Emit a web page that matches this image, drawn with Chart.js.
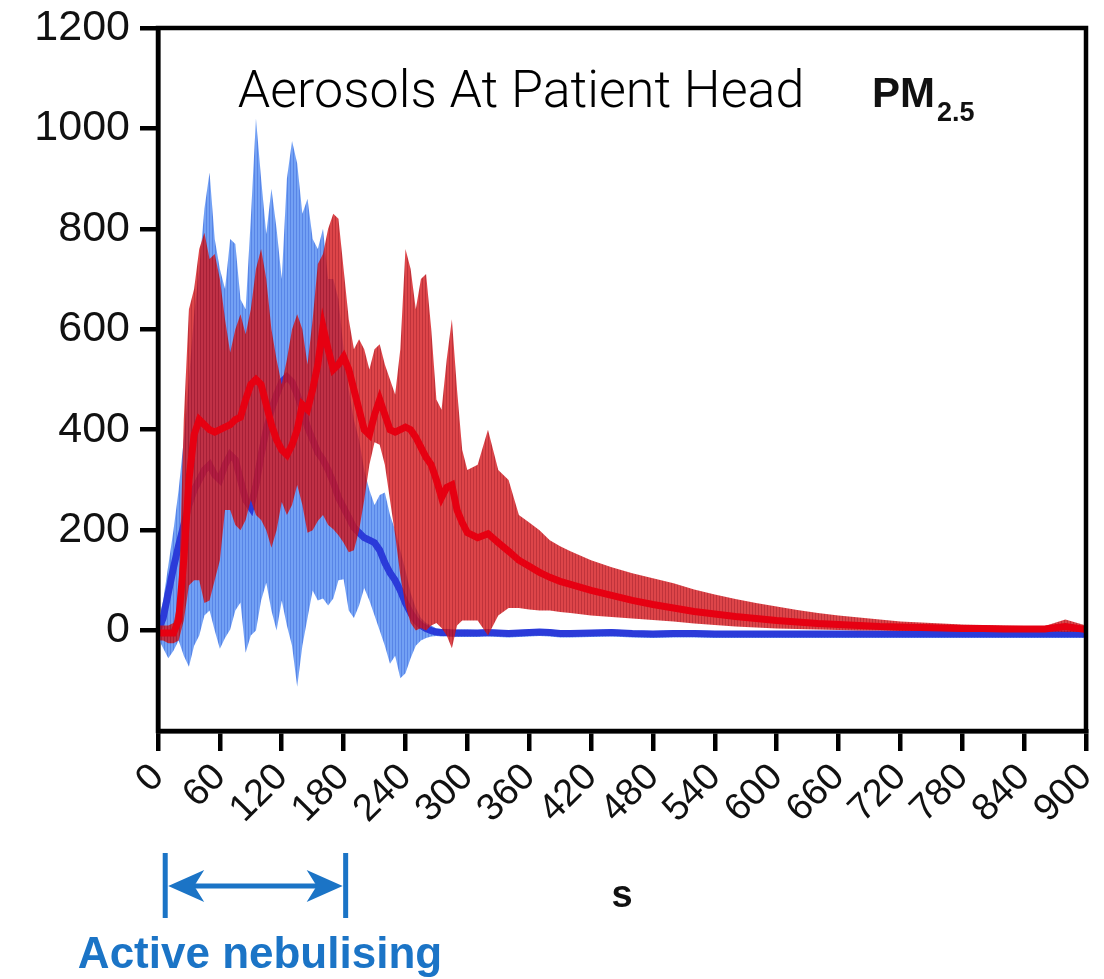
<!DOCTYPE html>
<html>
<head>
<meta charset="utf-8">
<script src="https://cdn.jsdelivr.net/npm/chart.js@4.4.1/dist/chart.umd.min.js"></script>
<style>
  html, body { margin: 0; padding: 0; background: #fff; }
  #wrap { width: 1104px; height: 979px; position: relative; }
</style>
</head>
<body>
<div id="wrap"><canvas id="pm25"></canvas></div>
<script>
// sample times (s)
const times = [
  0, 5, 10, 15, 20, 25, 30, 35, 40, 45,
  50, 55, 60, 65, 70, 75, 80, 85, 90, 95,
  100, 105, 110, 115, 120, 125, 130, 135, 140, 145,
  150, 155, 160, 165, 170, 175, 180, 185, 190, 195,
  200, 205, 210, 215, 220, 225, 230, 235, 240, 245,
  250, 255, 260, 265, 270, 275, 280, 285, 290, 295,
  300,
  310, 320, 330, 340, 350, 360, 370, 380, 390, 400,
  420, 440, 460, 480, 500, 520, 540, 560, 580, 600,
  620, 640, 660, 680, 700, 720, 740, 760, 780, 800,
  820, 840, 860, 880, 900
];

// blue series: mean and error bar extent
const blueMean = [
  0, 25, 75, 125, 170, 210, 250, 280, 300, 320,
  330, 310, 300, 330, 350, 340, 300, 260, 245, 290,
  350, 400, 440, 470, 495, 505, 495, 470, 440, 405,
  380, 355, 340, 320, 295, 265, 245, 225, 205, 195,
  185, 180, 175, 160, 135, 115, 100, 80, 55, 35,
  20, 10, 4, 0, -3, -4, -4, -5, -5, -5,
  -5,
  -5, -4, -5, -6, -5, -4, -3, -4, -6, -6,
  -5, -4, -6, -7, -6, -6, -7, -7, -7, -7,
  -7, -7, -7, -7, -7, -7, -7, -7, -7, -7,
  -7, -7, -7, -7, -7
];
const blueHigh = [
  15, 60, 130, 200, 280, 380, 500, 630, 720, 840,
  912, 780, 720, 680, 780, 770, 660, 640, 820, 1020,
  900, 790, 880, 800, 700, 900, 975, 930, 830, 860,
  780, 760, 800, 700, 700, 660, 560, 480, 420, 380,
  320, 280, 250, 270, 275, 230, 200, 160, 120, 75,
  45, 25, 15, 10, 4, 3, 3, 2, 2, 2,
  2,
  1, 2, 1, 0, 1, 2, 3, 2, 0, 0,
  1, 2, 0, -1, 0, 0, -1, -1, -1, -1,
  -1, -1, -1, -1, -1, -1, -1, -1, -1, -1,
  -1, -1, -1, -1, -1
];
const blueLow = [
  -15, -35, -55, -40, -20, -50, -72, -30, -10, 30,
  40, 0, -36, -15, 2, 40, 56, -44, -10, 0,
  60, 95, 40, 0, 60, 10, -30, -112, -30, 25,
  80, 60, 64, 50, 64, 100, 102, 40, 25, 50,
  85, 60, 30, 0, -30, -66, -50, -95, -85, -55,
  -30, -20, -15, -12, -11, -12, -12, -13, -13, -13,
  -13,
  -13, -12, -13, -14, -13, -12, -11, -12, -14, -14,
  -13, -12, -14, -15, -14, -14, -15, -15, -15, -15,
  -15, -15, -15, -15, -15, -15, -15, -15, -15, -15,
  -15, -15, -15, -15, -15
];

// red series: mean and error bar extent
const redMean = [
  -5, -5, -5, -5, 20, 140, 300, 390, 420, 410,
  400, 395, 400, 405, 410, 420, 425, 460, 490, 500,
  490, 450, 410, 380, 360, 350, 370, 400, 450, 440,
  480, 530, 605, 560, 520, 530, 545, 520, 480, 440,
  400, 390, 430, 460, 430, 400, 395, 400, 405, 400,
  385, 365, 345, 330, 300, 265, 285, 290, 240, 215,
  195,
  185, 193, 175, 158, 140, 128, 116, 106, 98, 92,
  80, 70, 60, 52, 45, 38, 33, 28, 24, 20,
  17, 14, 12, 10, 8, 7, 6, 5, 4, 4,
  3, 3, 3, 8, 2
];
const redHigh = [
  10, 10, 10, 15, 60, 420, 640, 680, 760, 792,
  740, 750, 700, 620, 554, 600, 630, 590, 640, 720,
  760, 700, 600, 540, 490, 540, 600, 630, 600, 530,
  620, 730, 750, 800, 830, 820, 720, 620, 560, 580,
  560, 520, 560, 570, 530, 500, 470, 560, 760, 720,
  640, 700, 710, 600, 460, 440, 540, 620, 480, 360,
  320,
  330, 400, 320, 300, 230, 215, 200, 180, 168, 158,
  140, 126, 114, 104, 94, 82, 72, 63, 55, 48,
  41, 35, 30, 26, 22, 18, 16, 14, 12, 11,
  10, 9, 9, 22, 10
];
const redLow = [
  -20, -20, -25, -25, -20, 20, 90, 100, 100, 55,
  60, 100, 140, 240, 240, 210, 200, 220, 260, 230,
  220, 200, 165, 200, 256, 230, 250, 290, 250, 195,
  200, 218, 230, 210, 202, 190, 175, 156, 160, 200,
  260, 330, 375, 370, 330, 260, 190, 110, 50, 15,
  0, 5, 0, 10, 15, 5, -10, -35, 10, 20,
  20,
  20, -10, 30, 45, 45, 42, 40, 40, 37, 35,
  30, 27, 24, 21, 18, 14, 11, 8, 6, 4,
  3, 2, 1, 0, 0, -1, -1, -1, -2, -2,
  -2, -2, -2, -3, -3
];

const xTicks = { min: 0, max: 900, step: 60 };
const yTicks = { min: -200, max: 1200, step: 200 };
const nebulisingWindow = [7, 182];

[blueMean, blueHigh, blueLow, redMean, redHigh, redLow].forEach((arr, i) => {
  if (arr.length !== times.length) throw new Error('array ' + i + ' has ' + arr.length + ' values, expected ' + times.length);
});

const FONT = '"Liberation Sans", Arial, sans-serif';
const NEB_BLUE = '#1b74c6';

function toPoints(values) {
  return times.map((t, i) => ({ x: t, y: values[i] }));
}

// thin vertical stripes, like the packed error bars of the original
function stripePattern(base, stripe) {
  const c = document.createElement('canvas');
  c.width = 3;
  c.height = 8;
  const g = c.getContext('2d');
  g.fillStyle = base;
  g.fillRect(0, 0, 2, 8);
  g.fillStyle = stripe;
  g.fillRect(2, 0, 1, 8);
  return g.createPattern(c, 'repeat');
}

const blueBand = stripePattern('rgba(90,145,242,0.85)', 'rgba(70,120,228,0.9)');
const redBand = stripePattern('rgba(212,22,28,0.8)', 'rgba(180,15,25,0.85)');

const bandStyle = {
  borderColor: 'rgba(0,0,0,0)',
  borderWidth: 1,
  pointRadius: 0,
  tension: 0
};
const meanStyle = {
  borderWidth: 7,
  pointRadius: 3.5,
  pointStyle: 'rect',
  pointBorderWidth: 0,
  tension: 0,
  fill: false
};

// frame around plot area
const framePlugin = {
  id: 'frame',
  afterDatasetsDraw(chart) {
    const { ctx, chartArea: a } = chart;
    ctx.save();
    ctx.strokeStyle = '#000';
    ctx.lineWidth = 4.5;
    ctx.strokeRect(a.left, a.top, a.right - a.left, a.bottom - a.top);
    ctx.restore();
  }
};

// titles and the nebulising arrow
const notesPlugin = {
  id: 'notes',
  afterDraw(chart) {
    const { ctx } = chart;
    const xs = chart.scales.x;
    ctx.save();

    ctx.fillStyle = '#000';
    ctx.textBaseline = 'alphabetic';
    ctx.textAlign = 'center';
    ctx.font = '300 52px Roboto, "Noto Sans", sans-serif';
    ctx.fillText('Aerosols At Patient Head', 521, 107);

    ctx.textAlign = 'left';
    ctx.fillStyle = '#111';
    ctx.font = 'bold 42px ' + FONT;
    ctx.fillText('PM', 872, 107);
    const pmW = ctx.measureText('PM').width;
    ctx.font = 'bold 27px ' + FONT;
    ctx.fillText('2.5', 872 + pmW + 2, 121);

    // arrow
    const x1 = xs.getPixelForValue(nebulisingWindow[0]);
    const x2 = xs.getPixelForValue(nebulisingWindow[1]);
    const yMid = 886;
    ctx.strokeStyle = NEB_BLUE;
    ctx.fillStyle = NEB_BLUE;
    ctx.lineWidth = 5;
    ctx.beginPath();
    ctx.moveTo(x1, 853); ctx.lineTo(x1, 918);
    ctx.moveTo(x2, 853); ctx.lineTo(x2, 918);
    ctx.moveTo(x1 + 20, yMid); ctx.lineTo(x2 - 20, yMid);
    ctx.stroke();
    const head = (tip, dir) => {
      ctx.beginPath();
      ctx.moveTo(tip, yMid);
      ctx.lineTo(tip + dir * 36, yMid - 16);
      ctx.lineTo(tip + dir * 26, yMid);
      ctx.lineTo(tip + dir * 36, yMid + 16);
      ctx.closePath();
      ctx.fill();
    };
    head(x1 + 3, 1);
    head(x2 - 3, -1);

    ctx.textAlign = 'center';
    ctx.font = 'bold 44px ' + FONT;
    ctx.fillText('Active nebulising', 260, 968);

    ctx.restore();
  }
};

const chart = new Chart(document.getElementById('pm25').getContext('2d'), {
  type: 'line',
  data: {
    datasets: [
      { label: 'Red mean', data: toPoints(redMean), order: 1, borderColor: '#e60012', backgroundColor: '#e60012', ...meanStyle },
      { label: 'Red high', data: toPoints(redHigh), order: 2, backgroundColor: redBand, fill: '+1', ...bandStyle },
      { label: 'Red low', data: toPoints(redLow), order: 3, fill: false, ...bandStyle },
      { label: 'Blue mean', data: toPoints(blueMean), order: 4, borderColor: '#2b3bd9', backgroundColor: '#2b3bd9', ...meanStyle },
      { label: 'Blue high', data: toPoints(blueHigh), order: 5, backgroundColor: blueBand, fill: '+1', ...bandStyle },
      { label: 'Blue low', data: toPoints(blueLow), order: 6, fill: false, ...bandStyle }
    ]
  },
  options: {
    responsive: true,
    maintainAspectRatio: false,
    animation: false,
    devicePixelRatio: 1,
    layout: { padding: { top: 28, right: 18, left: 0, bottom: 0 } },
    plugins: {
      legend: { display: false },
      tooltip: { enabled: false }
    },
    scales: {
      x: {
        type: 'linear',
        min: xTicks.min,
        max: xTicks.max,
        ticks: {
          stepSize: xTicks.step,
          maxTicksLimit: 30,
          autoSkip: false,
          minRotation: 45,
          maxRotation: 45,
          padding: 4,
          color: '#111',
          font: { family: FONT, size: 38 },
          callback: v => String(v)
        },
        grid: { drawOnChartArea: false, drawTicks: true, tickLength: 20, lineWidth: 4.5, color: '#000' },
        border: { display: true, width: 4.5, color: '#000' },
        title: {
          display: true,
          text: 's',
          color: '#111',
          font: { family: FONT, size: 38, weight: 'bold' },
          padding: { top: 0, bottom: 60 }
        },
        afterFit(scale) {
          scale.height = 248;
          scale.paddingLeft = 0;
          scale.paddingRight = 0;
        }
      },
      y: {
        min: yTicks.min,
        max: yTicks.max,
        ticks: {
          stepSize: yTicks.step,
          padding: 10,
          color: '#111',
          font: { family: FONT, size: 43 },
          callback: v => (v === yTicks.min ? '' : String(v))
        },
        grid: {
          drawOnChartArea: false,
          drawTicks: true,
          tickLength: 18,
          lineWidth: 4.5,
          color: ctx => (ctx.tick && ctx.tick.value === yTicks.min ? 'rgba(0,0,0,0)' : '#000')
        },
        border: { display: true, width: 4.5, color: '#000' },
        afterFit(scale) {
          scale.width = 158;
          scale.paddingTop = 0;
          scale.paddingBottom = 0;
        }
      }
    }
  },
  plugins: [framePlugin, notesPlugin]
});
</script>
</body>
</html>
